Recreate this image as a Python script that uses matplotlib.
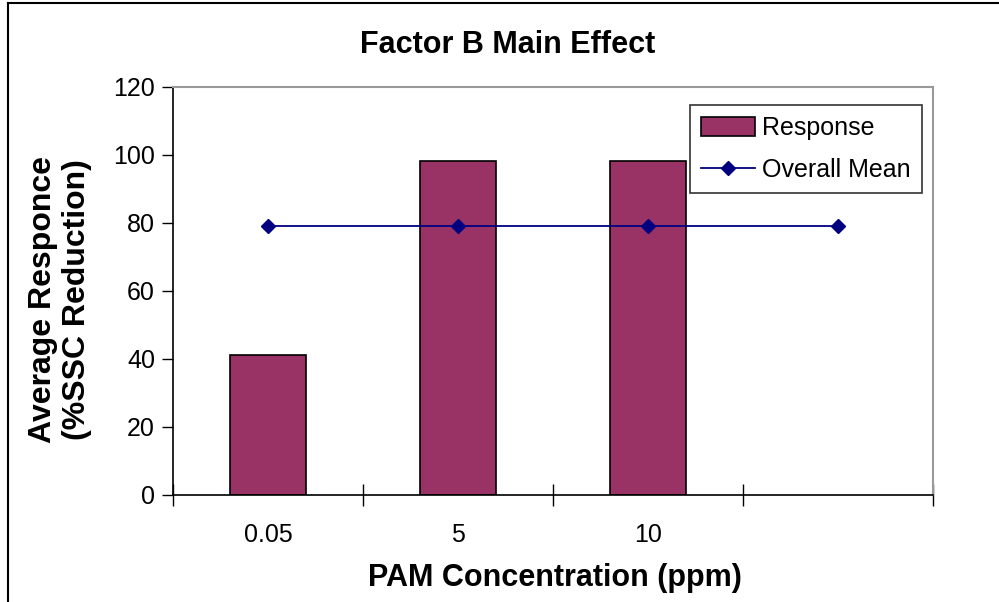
import matplotlib.pyplot as plt
import numpy as np

plt.rcParams['font.family'] = ['Liberation Sans', 'DejaVu Sans']

# PAM concentration levels (last category left empty)
niveles = ["0.05", "5", "10", ""]
respuesta = [41.2, 98.2, 98.2]
media_global = [79.2, 79.2, 79.2, 79.2]

fig = plt.figure(figsize=(9.99, 6.02), dpi=100)
ax = fig.add_axes([173 / 999, 1 - 495 / 602, 760 / 999, 408 / 602])

x = np.arange(len(niveles))
barras = ax.bar(x[:len(respuesta)], respuesta, width=0.4, color="#993366",
                edgecolor="black", linewidth=1.2, label="Response", zorder=2)
linea, = ax.plot(x, media_global, color="#000080", marker="D", markersize=7,
                 linewidth=1.3, label="Overall Mean", zorder=3)

ax.set_xlim(-0.5, len(niveles) - 0.5)
ax.set_ylim(0, 120)
ax.set_yticks(range(0, 121, 20))
ax.tick_params(axis="y", direction="out", length=8, width=1, labelsize=18, pad=5)

# category labels centred, ticks on the category boundaries
ax.set_xticks(x)
ax.set_xticklabels(niveles, fontsize=18)
ax.tick_params(axis="x", which="major", length=0, pad=20)
ax.set_xticks(np.arange(-0.5, len(niveles), 1), minor=True)
ax.tick_params(axis="x", which="minor", direction="inout", length=16, width=1)

for lado in ["top", "right"]:
    ax.spines[lado].set_color("#999999")
    ax.spines[lado].set_linewidth(1.5)
for lado in ["left", "bottom"]:
    ax.spines[lado].set_color("black")
    ax.spines[lado].set_linewidth(1.2)

fig.text(508 / 999, 1 - 45 / 602, "Factor B Main Effect", ha="center", va="center",
         fontsize=22, fontweight="bold")
fig.text(555 / 999, 1 - 578 / 602, "PAM Concentration (ppm)", ha="center", va="center",
         fontsize=22, fontweight="bold")
fig.text(60 / 999, 1 - 300 / 602, "Average Responce\n(%SSC Reduction)", ha="center",
         va="center", rotation=90, fontsize=23, fontweight="bold", linespacing=1.2)

leg = ax.legend([barras, linea], ["Response", "Overall Mean"], loc="upper left",
                bbox_to_anchor=(690 / 999, 1 - 105 / 602),
                bbox_transform=fig.transFigure, fontsize=18, frameon=True,
                fancybox=False, edgecolor="black", borderpad=0.45, borderaxespad=0,
                handlelength=2.15, handleheight=0.75, handletextpad=0.3,
                labelspacing=0.7)
leg.get_frame().set_linewidth(1.2)

# outer chart border
fig.add_artist(plt.Line2D([8 / 999, 8 / 999], [0, 1 - 3 / 602], color="black",
                          linewidth=1.5, transform=fig.transFigure))
fig.add_artist(plt.Line2D([8 / 999, 1], [1 - 3 / 602, 1 - 3 / 602], color="black",
                          linewidth=1.5, transform=fig.transFigure))

fig.savefig("out.png", dpi=100)
